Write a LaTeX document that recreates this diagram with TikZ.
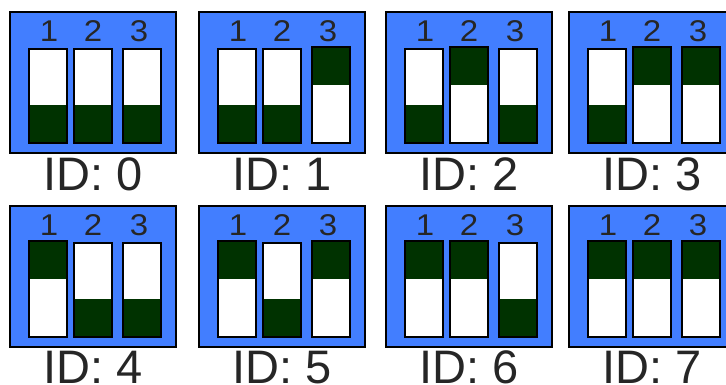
\documentclass[tikz,border=0pt]{standalone}
\usepackage{fontspec}
\setmainfont{Liberation Sans}
\definecolor{dipblue}{RGB}{66,126,255}
\definecolor{dipgreen}{RGB}{0,50,0}
\tikzset{
  boxstyle/.style={draw=black, fill=dipblue, line width=1.4pt},
  swframe/.style={draw=black, line width=1.4pt},
  digit/.style={anchor=base, inner sep=0pt, xscale=1.1, font=\fontsize{30}{30}\selectfont, text=black!85},
  idlabel/.style={anchor=base, inner sep=0pt, font=\fontsize{47}{47}\selectfont, text=black!85},
}
\newcommand{\dipsw}[2]{% x offset, state
  \ifnum#2=1
    \fill[white] (#1,35) rectangle ++(38,96);
    \fill[dipgreen] (#1,35) rectangle ++(38,38);
    \draw[swframe] (#1,35) rectangle ++(38,96);
  \else
    \fill[white] (#1,37) rectangle ++(38,94);
    \fill[dipgreen] (#1,93) rectangle ++(38,38);
    \draw[swframe] (#1,37) rectangle ++(38,94);
  \fi
}
\newcommand{\dipbox}[7]{% x, y, id, s1, s2, s3, label baseline
  \begin{scope}[shift={(#1,#2)}]
    \draw[boxstyle] (0,0) rectangle (166,141);
    \dipsw{19}{#4}
    \dipsw{64}{#5}
    \dipsw{113}{#6}
    \node[digit] (d#3a) at (39,30) {1};
    \node[digit] (d#3b) at (83,30) {2};
    \node[digit] (d#3c) at (129,30) {3};
    \node[idlabel] (id#3) at (83,#7) {ID: #3};
  \end{scope}
}
\begin{document}
\begin{tikzpicture}[x=1pt,y=-1pt]
  \useasboundingbox (0,0) rectangle (726,385);
  \dipbox{10}{12}{0}{0}{0}{0}{178}
  \dipbox{199}{12}{1}{0}{0}{1}{178}
  \dipbox{386}{12}{2}{0}{1}{0}{178}
  \dipbox{569}{12}{3}{0}{1}{1}{178}
  \dipbox{10}{206}{4}{1}{0}{0}{177}
  \dipbox{199}{206}{5}{1}{0}{1}{177}
  \dipbox{386}{206}{6}{1}{1}{0}{177}
  \dipbox{569}{206}{7}{1}{1}{1}{177}
\end{tikzpicture}
\end{document}
